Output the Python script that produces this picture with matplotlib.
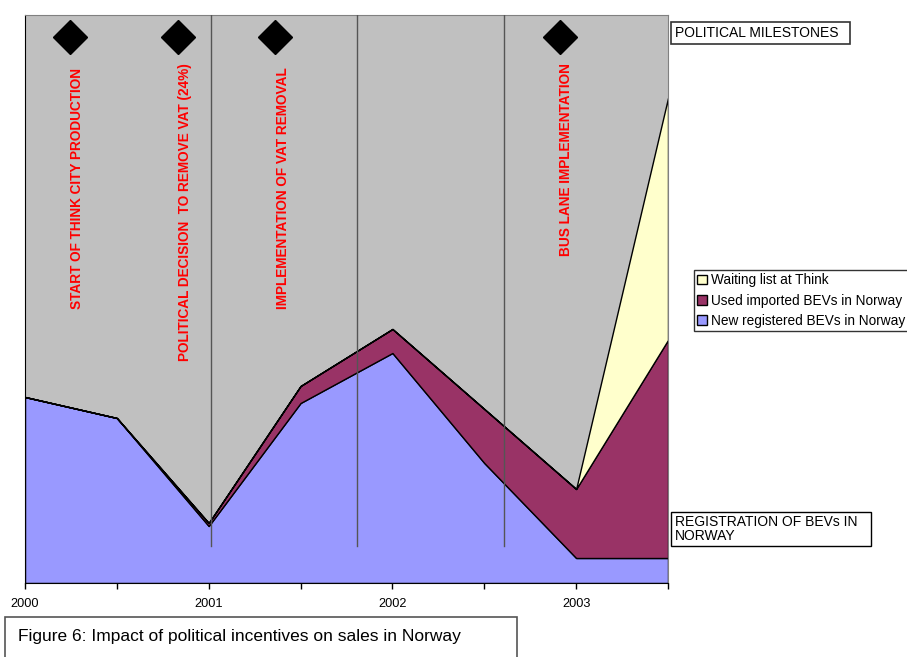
import matplotlib
matplotlib.use('Agg')
import matplotlib.pyplot as plt
from matplotlib.patches import Rectangle

plt.rcParams['font.family'] = ['Liberation Sans', 'DejaVu Sans']

# data (arbitrary units, no y axis shown)
years = [2000, 2000.5, 2001, 2001.5, 2002, 2002.5, 2003, 2003.5]
new_bev = [186, 165, 57, 180, 230, 120, 25, 25]
used_bev = [0, 0, 3, 17, 24, 54, 69, 218]
waiting = [0, 0, 0, 0, 0, 0, 0, 242]
series_names = ['New registered BEVs in Norway', 'Used imported BEVs in Norway', 'Waiting list at Think']
series_colors = ['#9999FF', '#993366', '#FFFFCC']

milestones = ['START OF THINK CITY PRODUCTION', 'POLITICAL DECISION  TO REMOVE VAT (24%)',
              'IMPLEMENTATION OF VAT REMOVAL', 'BUS LANE IMPLEMENTATION']
diamond_x = [2000.245, 2000.833, 2001.361, 2002.912]
label_x = [2000.283, 2000.871, 2001.404, 2002.945]
label_top = [515, 520, 516, 520]
vline_x = [2001.013, 2001.807, 2002.607]

fig = plt.figure(figsize=(9.07, 6.57), dpi=100)
ax = fig.add_axes([25/907, 1-583/657, (668-25)/907, (583-15)/657])
ax.set_facecolor('#C0C0C0')

polys = ax.stackplot(years, new_bev, used_bev, waiting, colors=series_colors,
                     labels=series_names, edgecolor='black', linewidth=1.0)

for x in vline_x:
    ax.plot([x, x], [37, 568], color='#555555', linewidth=1.0, zorder=3)

ax.plot(diamond_x, [546]*len(diamond_x), 'D', color='black', markersize=17, linestyle='none', zorder=4)
for x, y, t in zip(label_x, label_top, milestones):
    ax.text(x, y, t, rotation=90, color='red', fontweight='bold', fontsize=9.8,
            ha='center', va='top', zorder=4)

ax.set_xlim(2000, 2003.5)
ax.set_ylim(0, 568)
ax.set_yticks([])
ax.set_xticks([2000, 2001, 2002, 2003])
ax.set_xticklabels(['2000', '2001', '2002', '2003'], fontsize=9.2)
ax.set_xticks(years, minor=True)
ax.tick_params(axis='x', which='both', direction='out', length=4, width=1, pad=7)
ax.spines['top'].set_color('#808080')
ax.spines['right'].set_color('#808080')
ax.spines['left'].set_color('black')
ax.spines['bottom'].set_color('black')

handles, labels = ax.get_legend_handles_labels()
leg = fig.legend(handles[::-1], labels[::-1], loc='upper left', bbox_to_anchor=(694/907, 1-270/657),
                 fontsize=9.8, frameon=True, fancybox=False, edgecolor='black',
                 handlelength=0.7, handleheight=0.7, handletextpad=0.3, borderpad=0.25,
                 labelspacing=0.45, borderaxespad=0)
leg.get_frame().set_linewidth(1.0)

fig.text(675/907, 1-33/657, 'POLITICAL MILESTONES', fontsize=10, va='center', ha='left')
fig.patches.append(Rectangle((671/907, 1-44/657), 179/907, 22/657, transform=fig.transFigure,
                             fill=False, edgecolor='#333333', linewidth=1.2))
fig.text(675/907, 1-529/657, 'REGISTRATION OF BEVs IN\nNORWAY', fontsize=10, va='center', ha='left',
         linespacing=1.05)
fig.patches.append(Rectangle((671/907, 1-546/657), 200/907, 34/657, transform=fig.transFigure,
                             fill=False, edgecolor='black', linewidth=1.0))

fig.text(18/907, 1-636/657, 'Figure 6: Impact of political incentives on sales in Norway',
         fontsize=12.5, va='center', ha='left')
fig.patches.append(Rectangle((5/907, 1-662/657), 512/907, 45/657, transform=fig.transFigure,
                             fill=False, edgecolor='#555555', linewidth=1.2))

fig.savefig('out.png', dpi=100)
